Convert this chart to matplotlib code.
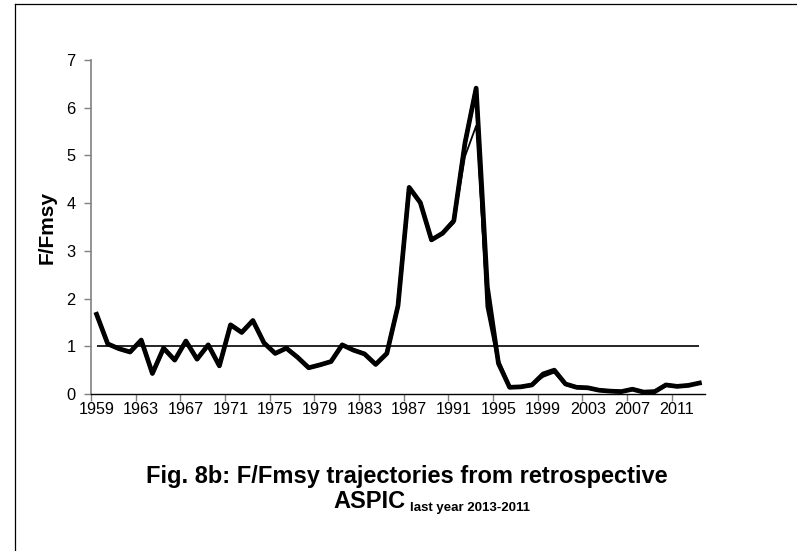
import matplotlib
matplotlib.use("Agg")
import matplotlib.pyplot as plt
from matplotlib.lines import Line2D

##################################################################################
# Data ###########################################################################
##################################################################################
years = list(range(1959, 2014))

ffmsy_2013 = [1.67, 1.05, 0.95, 0.88, 1.13, 0.43, 0.96, 0.71, 1.11, 0.73,
              1.03, 0.59, 1.45, 1.29, 1.54, 1.07, 0.85, 0.96, 0.77, 0.55,
              0.61, 0.68, 1.03, 0.92, 0.84, 0.62, 0.85, 1.85, 4.33, 4.01,
              3.23, 3.37, 3.63, 5.26, 6.41, 2.25, 0.64, 0.14, 0.15, 0.19,
              0.42, 0.50, 0.21, 0.14, 0.13, 0.08, 0.06, 0.05, 0.10, 0.04,
              0.05, 0.19, 0.16, 0.18, 0.23]

ffmsy_2012 = [1.67, 1.05, 0.95, 0.88, 1.13, 0.43, 0.96, 0.71, 1.11, 0.73,
              1.03, 0.59, 1.45, 1.29, 1.54, 1.07, 0.85, 0.96, 0.77, 0.55,
              0.61, 0.68, 1.03, 0.92, 0.84, 0.62, 0.85, 1.85, 4.33, 4.01,
              3.23, 3.37, 3.63, 5.26, 6.41, 1.83, 0.68, 0.14, 0.15, 0.19,
              0.40, 0.48, 0.21, 0.14, 0.13, 0.08, 0.06, 0.05, 0.10, 0.04,
              0.05, 0.19, 0.16, 0.18]

ffmsy_2011 = [1.67, 1.05, 0.95, 0.88, 1.13, 0.43, 0.96, 0.71, 1.11, 0.73,
              1.03, 0.59, 1.45, 1.29, 1.54, 1.07, 0.85, 0.96, 0.77, 0.55,
              0.61, 0.68, 1.03, 0.92, 0.84, 0.62, 0.85, 1.85, 4.33, 4.01,
              3.23, 3.37, 3.58, 4.98, 5.62, 1.83, 0.66, 0.14, 0.15, 0.19,
              0.36, 0.45, 0.21, 0.14, 0.13, 0.08, 0.06, 0.05, 0.10, 0.04,
              0.05, 0.19, 0.16]

ref_level = [1.0] * len(years)

tick_years = years[::4]

##################################################################################
# Figure #########################################################################
##################################################################################
plt.rcParams['font.family'] = ['Liberation Sans', 'DejaVu Sans']

W, H = 797, 551
fig = plt.figure(figsize=(W / 100, H / 100), dpi=100)

# outer frame (only left and top edges visible)
fig.add_artist(Line2D([15 / W, 15 / W], [0, 1 - 4 / H], color='black', lw=0.9))
fig.add_artist(Line2D([15 / W, 1], [1 - 4 / H, 1 - 4 / H], color='black', lw=0.9))

ax_left, ax_right, ax_top, ax_bottom = 91, 705, 60, 394
ax = fig.add_axes([ax_left / W, 1 - ax_bottom / H,
                   (ax_right - ax_left) / W, (ax_bottom - ax_top) / H])

idx = list(range(len(years)))
ax.plot(idx, ref_level, color='black', lw=1.2, solid_capstyle='butt')
ax.plot(idx[:len(ffmsy_2011)], ffmsy_2011, color='black', lw=1.3)
ax.plot(idx[:len(ffmsy_2012)], ffmsy_2012, color='black', lw=2.6)
ax.plot(idx, ffmsy_2013, color='black', lw=3.4)

ax.set_xlim(-0.5, len(years) - 0.5)
ax.set_ylim(0, 7)

ax.set_yticks(range(0, 8))
ax.set_xticks([i - 0.5 for i in range(0, len(years) - 1, 4)])
ax.set_xticklabels([])
ax.set_xticks(list(range(0, len(years), 4)), minor=True)
ax.set_xticklabels([str(y) for y in tick_years], minor=True)

ax.tick_params(axis='y', direction='out', length=5, width=1, color='#808080',
               labelsize=11.8, pad=6)
ax.tick_params(axis='x', which='major', direction='out', length=5, width=1,
               color='#808080')
ax.tick_params(axis='x', which='minor', length=0, labelsize=11.6, pad=6)

for side in ['top', 'right']:
    ax.spines[side].set_visible(False)
ax.spines['left'].set_color('#808080')
ax.spines['bottom'].set_color('#000000')
ax.spines['left'].set_linewidth(1.2)
ax.spines['bottom'].set_linewidth(1.0)

ax.set_ylabel('F/Fmsy', fontsize=15, fontweight='bold', labelpad=7)

# caption
fig.text(407 / W, 1 - 476 / H,
         'Fig. 8b: F/Fmsy trajectories from retrospective',
         ha='center', va='center', fontsize=17, fontweight='bold')
fig.text(406 / W, 1 - 502 / H, 'ASPIC', ha='right', va='center',
         fontsize=17, fontweight='bold')
fig.text(410 / W, 1 - 508 / H, 'last year 2013-2011', ha='left', va='center',
         fontsize=9.5, fontweight='bold')

fig.savefig('out.png', dpi=100)
